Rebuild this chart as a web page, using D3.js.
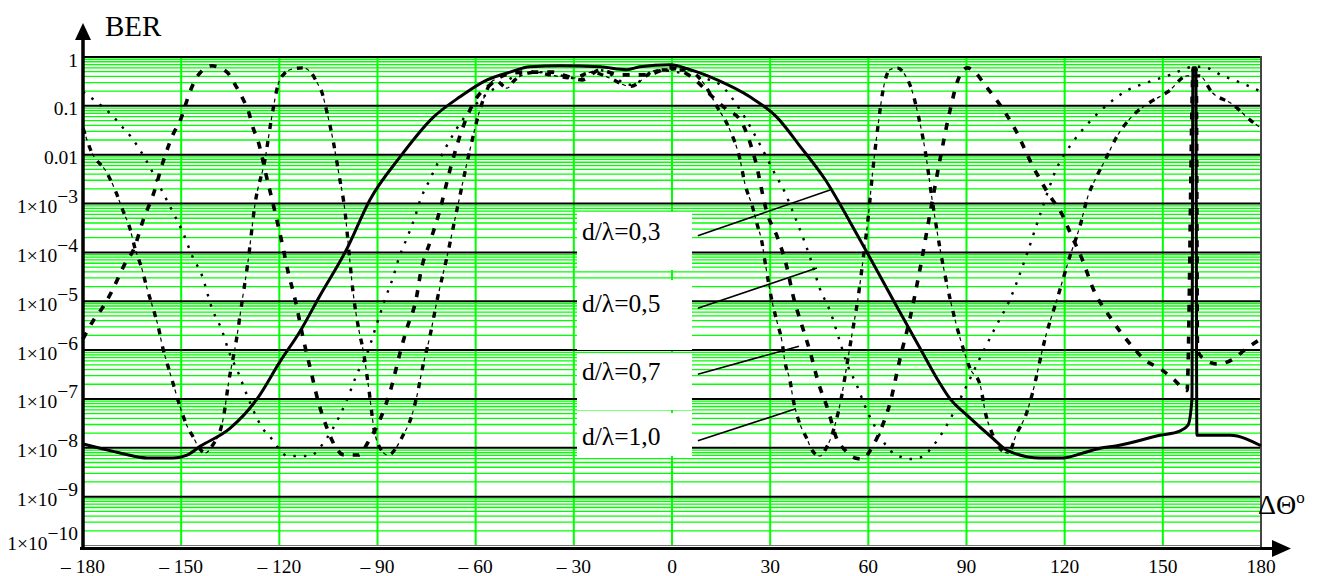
<!DOCTYPE html>
<html><head><meta charset="utf-8">
<script src="https://cdn.jsdelivr.net/npm/d3@7"></script>
<style>
body{margin:0;background:#fff;}
svg{display:block;}
text{font-family:'Liberation Serif','Times New Roman',Times,serif;}
</style></head><body>
<svg id="chart" width="1324" height="576" font-family="Liberation Serif, Times New Roman, serif"></svg>
<script>
// ---- data (angle in degrees, BER) ----
const ang03 = [-180,-174.8,-169.6,-164.7,-160.4,-152.5,-148.2,-144.2,-135.1,-126.8,-119.8,-113.7,-107.6,-99.3,-92.3,-83.1,-73,-64.8,-56.5,-49.5,-43.4,-34.2,-22,-13.8,-9.8,-0.6,5.5,13.8,23.8,32.1,39.1,46.8,54.4,59.6,67.8,76.1,81,85,90.2,98.1,102.4,112.5,119.5,125.6,130.8,136,149.1,155.2,157.7,158.9,159.2,160.1,160.4,170.5,180];
const ber03 = [1.2e-8,9.8e-9,8.1e-9,6.8e-9,6.2e-9,6.2e-9,7.1e-9,1.07e-8,2.5e-8,1.0e-7,5.8e-7,2.4e-6,1.3e-5,1.2e-4,1.2e-3,9e-3,5.8e-2,0.153,0.34,0.49,0.63,0.66,0.63,0.55,0.63,0.69,0.55,0.34,0.153,5.8e-2,1.5e-2,3.1e-3,4.2e-4,1.0e-4,1.0e-5,1.0e-6,2.6e-7,1.0e-7,4.6e-8,1.55e-8,8.9e-9,6.2e-9,6.2e-9,7.8e-9,9.8e-9,1.1e-8,1.8e-8,2.2e-8,2.9e-8,1.0e-7,0.6,0.6,1.8e-8,1.8e-8,1.1e-8];

const ang05 = [-180,-177,-174,-171,-168,-165.3,-161,-156,-152.5,-149.4,-146.7,-143.6,-140.6,-137.5,-135.4,-132.6,-129.9,-127.1,-125.3,-122.9,-117.4,-110.9,-105.7,-101.8,-99,-96.3,-93.2,-90,-87.7,-85.3,-83.4,-80.7,-78.2,-77.3,-74,-69.4,-63.3,-58.7,-52.6,-46.5,-38.8,-29.6,-22,-12.8,-3.7,5.5,11.6,14.7,20.8,26.9,31.5,34.5,37,39.7,42.2,45.2,48.3,51.3,53.5,56.5,59,62.3,66.6,70,73,76.4,79.8,84,88.9,94.1,98.7,103.3,107.9,112.5,117.7,121.6,126.8,133,139.3,145.8,152.2,159.5,162,168.4,174.8,180];
const ber05 = [0.195,0.138,0.095,0.063,0.037,0.023,8.3e-3,1.9e-3,6.6e-4,2.5e-4,8.7e-5,3.3e-5,7.2e-6,2.5e-6,9.3e-7,3.5e-7,1.2e-7,4.4e-8,2.6e-8,1.7e-8,6.8e-9,6.8e-9,1.5e-8,4.2e-8,1.1e-7,3.2e-7,8.5e-7,3.8e-6,1.1e-5,3.0e-5,7.9e-5,2.2e-4,6.3e-4,1.0e-3,3.1e-3,1.3e-2,6.0e-2,0.13,0.27,0.43,0.49,0.37,0.54,0.27,0.54,0.43,0.34,0.27,8.3e-2,1.6e-2,4.0e-3,1.7e-3,6.6e-4,2.3e-4,7.9e-5,1.8e-5,6.3e-6,1.5e-6,5.2e-7,1.9e-7,7.1e-8,2.5e-8,8.9e-9,6.5e-9,5.9e-9,6.5e-9,1.1e-8,2.9e-8,1.3e-7,6.8e-7,2.8e-6,1.1e-5,7.2e-5,6.0e-4,5.5e-3,1.5e-2,4.1e-2,0.105,0.21,0.31,0.43,0.63,0.63,0.41,0.28,0.195];

const ang07 = [-180,-176.9,-173.9,-171.4,-167.2,-164.4,-161.7,-158.3,-155.6,-152.5,-150.4,-147.3,-145.2,-140.6,-136,-133.5,-131.1,-129.3,-128,-126.5,-124.1,-121.3,-119.2,-117.4,-115.2,-112.5,-110.3,-108.2,-105.4,-103.6,-100.2,-95.7,-92.9,-88.6,-85.6,-83.4,-81,-78.2,-76.7,-74,-71.2,-67.8,-64.2,-60.2,-55.6,-51,-45.5,-36.4,-33.3,-27.5,-22,-15.9,-7.6,-0.6,6.4,12.5,16.8,20.8,25.4,29,32.4,35.1,37,39.7,42.2,44.6,47.7,50.4,52.9,55.9,58.1,61.4,63.6,66.6,69.7,72.7,75.8,78.8,81.9,85,87.4,90.2,92.6,95.6,100,105,110,115,119.5,121.6,125.6,128.7,133.8,140.6,144.5,149.1,153.1,157.4,159.3,160.2,160.6,162.3,166.8,171.1,175.7,180];
const ber07 = [1.7e-6,4.0e-6,7.6e-6,1.5e-5,5.8e-5,1.2e-4,4.4e-4,1.7e-3,6.9e-3,2.6e-2,4.8e-2,0.195,0.39,0.66,0.49,0.27,0.138,7.2e-2,3.5e-2,1.9e-2,4.0e-3,6.6e-4,1.6e-4,4.2e-5,1.1e-5,1.5e-6,3.6e-7,9.3e-8,2.5e-8,1.3e-8,7.1e-9,7.1e-9,1.3e-8,4.8e-8,1.9e-7,7.4e-7,2.8e-6,1.1e-5,4.2e-5,1.6e-4,6.3e-4,5.0e-3,3.2e-2,0.13,0.27,0.43,0.49,0.49,0.43,0.34,0.54,0.43,0.43,0.6,0.37,0.15,8.3e-2,5.2e-2,7.9e-3,6.6e-4,1.9e-4,5.0e-5,1.3e-5,3.2e-6,9.3e-7,2.3e-7,5.9e-8,1.5e-8,8.9e-9,6.2e-9,5.9e-9,1.1e-8,2.2e-8,8.1e-8,6.8e-7,4.4e-6,4.6e-5,6.0e-4,7.9e-3,8.3e-2,0.34,0.6,0.49,0.27,0.11,3.2e-2,6.3e-3,1.6e-3,5.5e-4,2.6e-4,6.6e-5,1.8e-5,4.8e-6,1.2e-6,6.3e-7,4.2e-7,2.6e-7,1.5e-7,0.56,0.56,1e-6,6.8e-7,5.2e-7,6.3e-7,1.1e-6,1.7e-6];

const ang10 = [-180,-177.3,-173,-170.2,-167.8,-165.6,-164.1,-162,-160.4,-158.6,-157.1,-155.6,-154,-152.2,-150.4,-148.2,-146.4,-144.9,-142.7,-140.5,-137.2,-135.4,-133.2,-131.4,-129.6,-127.4,-124.4,-122.2,-120.4,-118.3,-115.8,-112.8,-110,-108.5,-107,-105.4,-103.6,-101.8,-99.9,-98.7,-97.5,-95.7,-94.4,-92.6,-91.1,-89.2,-86.8,-82.2,-79.5,-77.9,-76.1,-74,-71.5,-68.8,-65.7,-61.7,-58.7,-54.1,-50.4,-48,-41.9,-37.3,-30.3,-24.4,-19,-12.8,-4.6,4.6,9.5,13.8,17.7,20.8,22.3,24.4,26,27.5,28.4,30.6,32.1,33.6,34.5,36.1,37,38.5,41.3,42.8,45.2,47.1,49.8,51.9,53.5,55,56.8,58.4,59.9,61.4,63,64.5,66.6,68.8,71.2,73.3,75.2,77.3,79.5,81.9,85,88.6,91.1,94.1,95.9,97.8,101.1,102.7,105.4,108.2,110,114,118,121.6,124.7,127.1,129.6,132.6,135.7,140.3,145.8,151.6,157.4,161.3,165,171.1,176.9,180];
const ber10 = [3.5e-2,1.1e-2,4.6e-3,1.9e-3,7.2e-4,3.0e-4,1.2e-4,4.6e-5,1.8e-5,7.2e-6,3.2e-6,1.1e-6,4.6e-7,1.8e-7,7.1e-8,2.8e-8,1.7e-8,1.1e-8,7.8e-9,1.1e-8,3.8e-8,2.4e-7,1.5e-6,9.8e-6,6.3e-5,1.0e-3,7.9e-3,6.6e-2,0.27,0.47,0.57,0.6,0.45,0.3,0.19,7.2e-2,2.0e-2,4.0e-3,6.6e-4,1.0e-4,1.6e-5,2.6e-6,1.0e-6,1.5e-7,2.5e-8,9.8e-9,7.1e-9,1.8e-8,4.6e-8,1.2e-7,4.8e-7,1.9e-6,1.3e-5,7.9e-5,7.6e-4,1.3e-2,8.3e-2,0.34,0.23,0.34,0.49,0.43,0.37,0.49,0.37,0.25,0.54,0.54,0.3,9.5e-2,3.2e-2,7.9e-3,2.5e-3,9.5e-4,3.8e-4,1.6e-4,6.6e-5,9.8e-6,3.8e-6,1.5e-6,5.8e-7,2.3e-7,1.0e-7,4.0e-8,1.5e-8,8.9e-9,6.8e-9,9.8e-9,2.9e-8,1.2e-7,5.2e-7,2.1e-6,1.1e-5,7.2e-5,4.8e-4,5.0e-3,4.1e-2,0.21,0.55,0.6,0.43,0.21,6.6e-2,1.3e-2,1.2e-3,1.2e-4,1.1e-5,1.3e-6,4.2e-7,2.0e-7,4.8e-8,2.0e-8,8.5e-9,7.8e-9,2.0e-8,4.8e-8,1.2e-7,1.7e-6,1.3e-5,8.3e-5,3.5e-4,1.4e-3,3.4e-3,8.3e-3,2.2e-2,5.8e-2,0.115,0.195,0.41,0.41,0.19,0.11,5.0e-2,3.5e-2];

const xTicks = [-180,-150,-120,-90,-60,-30,0,30,60,90,120,150,180];
const xTickLabels = ["\u2013 180","\u2013 150","\u2013 120","\u2013 90","\u2013 60","\u2013 30","0","30","60","90","120","150","180"];
const yTicks = [1,0.1,0.01,1e-3,1e-4,1e-5,1e-6,1e-7,1e-8,1e-9,1e-10];
const yTickMain = ["1","0.1","0.01","1\u00d710","1\u00d710","1\u00d710","1\u00d710","1\u00d710","1\u00d710","1\u00d710","1\u00d710"];
const yTickExp = ["","","","\u22123","\u22124","\u22125","\u22126","\u22127","\u22128","\u22129","\u221210"];
const legendLabels = ["d/\u03bb=0,3","d/\u03bb=0,5","d/\u03bb=0,7","d/\u03bb=1,0"];
const leaderFrom = [[7.9,2.2e-4],[7.9,7.2e-6],[7.9,3.2e-7],[7.9,1.4e-8]];
const leaderTo = [[48.3,1.9e-3],[44.3,4.8e-5],[38.8,1.2e-6],[37.6,6.2e-8]];

// ---- chart ----
const FONT = "Liberation Serif, Times New Roman, serif";
const svg = d3.select("#chart");
const x = d3.scaleLinear().domain([-180,180]).range([83,1261]);
const y = d3.scaleLog().domain([1e-10,1]).range([545.5,57]);
const GREEN = "#00ff00";

svg.append("rect").attr("width",1324).attr("height",576).attr("fill","#fff");

// minor horizontal grid
const minors = [];
for (let e=-10; e<0; e++) for (let m=2; m<=9; m++) minors.push(m*Math.pow(10,e));
svg.append("g").selectAll("line").data(minors).join("line")
  .attr("x1",x(-180)).attr("x2",x(180))
  .attr("y1",d=>y(d)).attr("y2",d=>y(d))
  .attr("stroke",GREEN).attr("stroke-width",1.3);
// vertical grid
svg.append("g").selectAll("line").data(xTicks.slice(1,-1)).join("line")
  .attr("x1",d=>x(d)).attr("x2",d=>x(d))
  .attr("y1",y(1)).attr("y2",y(1e-10))
  .attr("stroke",GREEN).attr("stroke-width",2);
// decade lines
svg.append("g").selectAll("line").data(yTicks.slice(0,-1)).join("line")
  .attr("x1",x(-180)).attr("x2",x(180))
  .attr("y1",d=>y(d)).attr("y2",d=>y(d))
  .attr("stroke","#000").attr("stroke-width",2);
svg.append("line").attr("x1",x(-180)).attr("x2",x(180))
  .attr("y1",y(1e-10)).attr("y2",y(1e-10)).attr("stroke","#777").attr("stroke-width",1.2);
// right border
svg.append("line").attr("x1",x(180)).attr("x2",x(180)).attr("y1",y(1)-1).attr("y2",549)
  .attr("stroke","#444").attr("stroke-width",2);

const line = d3.line().x(d=>x(d[0])).y(d=>y(d[1])).curve(d3.curveMonotoneX);
const zip = (a,b)=>a.map((v,i)=>[v,b[i]]);
const g = svg.append("g").attr("fill","none").attr("stroke","#000");
g.append("path").attr("d",line(zip(ang05,ber05))).attr("stroke-width",2.4).attr("stroke-dasharray","2.5,8");
g.append("path").attr("d",line(zip(ang10,ber10))).attr("stroke-width",3.4).attr("stroke-dasharray","6,12");
g.append("path").attr("d",line(zip(ang10,ber10))).attr("stroke-width",1.2).attr("stroke-dasharray","0,9,4,5");
g.append("path").attr("d",line(zip(ang07,ber07))).attr("stroke-width",3.6).attr("stroke-dasharray","7,9");
g.append("path").attr("d",line(zip(ang03,ber03))).attr("stroke-width",3).attr("stroke-linejoin","round");

// legend boxes
const boxes = [[212,270],[280,350],[353,410],[413,456]];
const baselines = [240,312,380,445];
const lg = svg.append("g");
lg.selectAll("rect").data(boxes).join("rect")
  .attr("x",577).attr("width",115).attr("y",d=>d[0]).attr("height",d=>d[1]-d[0]).attr("fill","#fff");
lg.selectAll("text").data(legendLabels).join("text")
  .attr("font-family",FONT)
  .attr("x",582).attr("y",(d,i)=>baselines[i]).attr("font-size",25.5).text(d=>d);
lg.selectAll("line").data(leaderFrom).join("line")
  .attr("x1",d=>x(d[0])).attr("y1",d=>y(d[1]))
  .attr("x2",(d,i)=>x(leaderTo[i][0])).attr("y2",(d,i)=>y(leaderTo[i][1]))
  .attr("stroke","#000").attr("stroke-width",1.6);

// axes
svg.append("line").attr("x1",83).attr("x2",83).attr("y1",550).attr("y2",36).attr("stroke","#000").attr("stroke-width",3.5);
svg.append("path").attr("d","M83,23 L75,40 L91,40 Z").attr("fill","#000");
svg.append("line").attr("x1",80).attr("x2",1276).attr("y1",548.5).attr("y2",548.5).attr("stroke","#000").attr("stroke-width",3);
svg.append("path").attr("d","M1291,548.5 L1272,540 L1272,557 Z").attr("fill","#000");

// y tick labels
const yl = svg.append("g").attr("font-size",19.5).attr("text-anchor","end").attr("font-family",FONT);
yTicks.forEach((t,i)=>{
  const off = (i===yTicks.length-1)?4:9.5;
  const tx = yl.append("text").attr("font-family",FONT).attr("x",78).attr("y",y(t)+off).text(yTickMain[i]);
  if (yTickExp[i]) tx.append("tspan").attr("dy",-10).text(yTickExp[i]);
});
// x tick labels
svg.append("g").attr("font-size",19.5).attr("text-anchor","middle").attr("font-family",FONT)
  .selectAll("text").data(xTicks).join("text")
  .attr("font-family",FONT)
  .attr("x",d=>x(d)).attr("y",573).text((d,i)=>xTickLabels[i]);

// axis titles
svg.append("text").attr("font-family",FONT).attr("x",105).attr("y",36).attr("font-size",29).text("BER");
const xt = svg.append("text").attr("font-family",FONT).attr("x",1258).attr("y",514).attr("font-size",28).text("\u0394\u0398");
xt.append("tspan").attr("dy",-11).attr("font-size",17).text("o");
</script>
</body></html>
